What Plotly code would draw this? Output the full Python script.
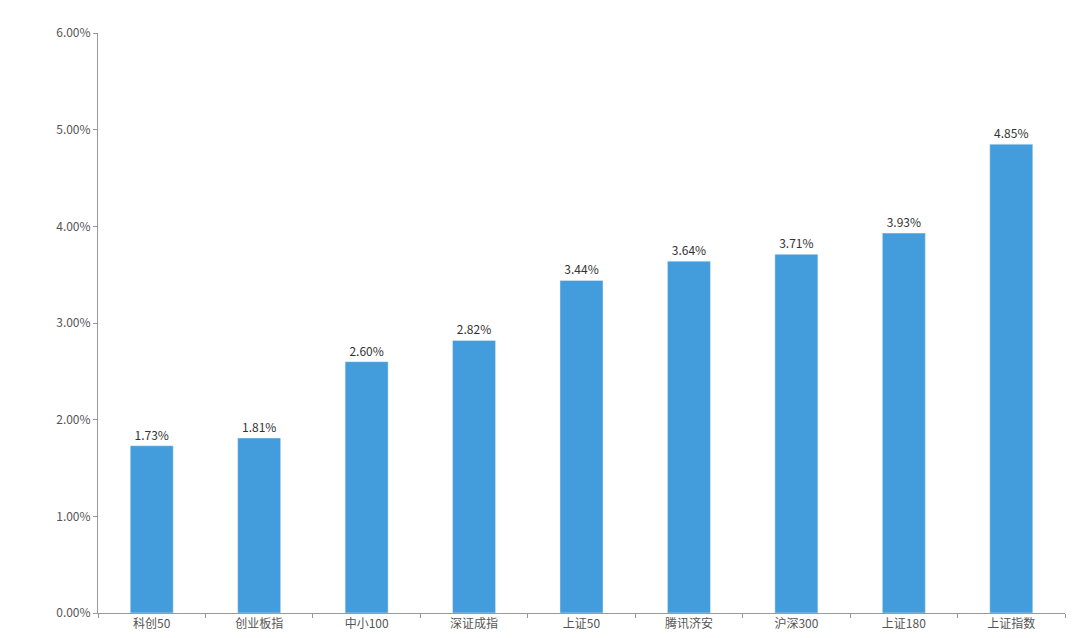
import plotly.graph_objects as go

categories = ["科创50", "创业板指", "中小100", "深证成指", "上证50", "腾讯济安", "沪深300", "上证180", "上证指数"]
values = [1.73, 1.81, 2.60, 2.82, 3.44, 3.64, 3.71, 3.93, 4.85]
tick_vals = [0, 1, 2, 3, 4, 5, 6]
tick_text = ["0.00%", "1.00%", "2.00%", "3.00%", "4.00%", "5.00%", "6.00%"]

fig = go.Figure(go.Bar(
    x=categories, y=values, width=0.4, marker_color="#439CDB",
    text=[f"{v:.2f}%" for v in values], textposition="outside",
    textfont=dict(size=12, color="#333333"), cliponaxis=False,
))
fig.update_layout(
    width=1080, height=638, plot_bgcolor="white", paper_bgcolor="white",
    margin=dict(l=90, r=23, t=25, b=33),
    font=dict(family="Noto Sans CJK SC", size=12, color="#555555"),
    showlegend=False, bargap=0.6,
)
fig.update_yaxes(range=[0, 6], tickvals=tick_vals, ticktext=tick_text, showgrid=False,
                 showline=True, linecolor="#999999", ticks="outside", tickcolor="#999999",
                 ticklen=4, zeroline=False)
fig.update_xaxes(showline=True, linecolor="#999999", ticks="outside", tickcolor="#999999",
                 ticklen=4, tickson="boundaries")
fig.write_html("out.html")
